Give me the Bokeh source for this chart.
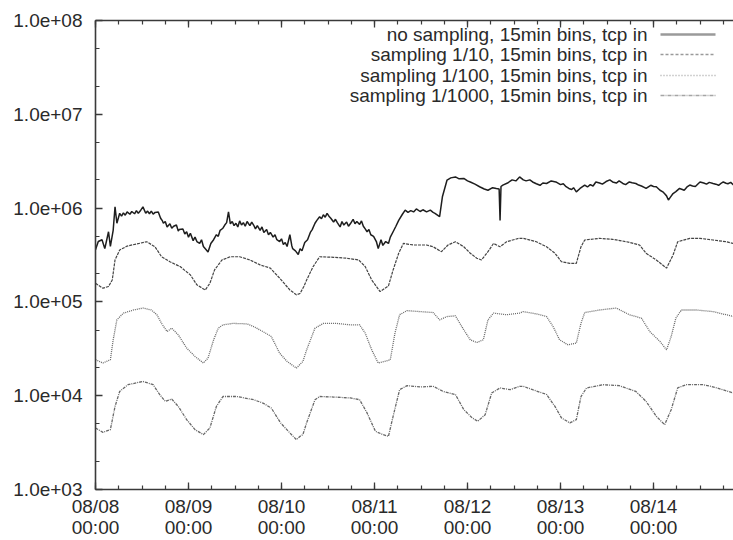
from bokeh.plotting import figure
from bokeh.models import FixedTicker, LinearAxis, Label, Arrow, Range1d, CustomJSTickFormatter
from bokeh.embed import file_html
from bokeh.resources import INLINE

# ---- data: (day offset from 08/08 00:00, value) ----
no_sampling = [
    (0.00, 3.6e5), (0.03, 4.4e5), (0.07, 4.6e5), (0.10, 3.7e5), (0.14, 5.6e5), (0.16, 3.9e5),
    (0.19, 5.8e5), (0.21, 1.03e6), (0.23, 6.9e5), (0.26, 8.8e5), (0.28, 8.2e5), (0.30, 8.9e5),
    (0.32, 8.4e5), (0.34, 9.1e5), (0.37, 8.6e5), (0.39, 9.2e5), (0.42, 8.7e5), (0.44, 9.4e5),
    (0.46, 8.8e5), (0.48, 9.3e5), (0.51, 1.03e6), (0.54, 8.8e5), (0.56, 9.3e5), (0.58, 8.7e5),
    (0.60, 9.3e5), (0.62, 8.6e5), (0.64, 9.0e5), (0.675, 9.1e5), (0.70, 7.8e5), (0.72, 7.3e5),
    (0.73, 6.9e5), (0.75, 7.2e5), (0.77, 6.3e5), (0.80, 6.8e5), (0.82, 6.1e5), (0.84, 6.4e5),
    (0.87, 6.6e5), (0.89, 5.7e5), (0.90, 5.9e5), (0.94, 6.0e5), (0.96, 5.3e5), (0.98, 5.6e5),
    (1.00, 4.9e5), (1.02, 5.4e5), (1.05, 4.5e5), (1.07, 4.9e5), (1.09, 4.4e5), (1.12, 4.2e5),
    (1.14, 4.6e5), (1.16, 3.9e5), (1.19, 3.6e5), (1.21, 3.4e5), (1.24, 4.2e5), (1.27, 4.6e5),
    (1.30, 5.2e5), (1.32, 5.0e5), (1.34, 5.8e5), (1.37, 6.1e5), (1.39, 6.6e5), (1.41, 7.0e5),
    (1.43, 9.1e5), (1.45, 6.8e5), (1.47, 7.2e5), (1.49, 6.5e5), (1.51, 6.9e5), (1.53, 6.3e5),
    (1.55, 7.3e5), (1.57, 6.6e5), (1.59, 7.0e5), (1.61, 6.4e5), (1.63, 7.2e5), (1.66, 6.5e5),
    (1.68, 7.1e5), (1.70, 6.6e5), (1.72, 6.0e5), (1.74, 6.5e5), (1.77, 5.8e5), (1.79, 6.3e5),
    (1.81, 5.5e5), (1.84, 5.9e5), (1.86, 5.2e5), (1.88, 5.5e5), (1.91, 4.9e5), (1.93, 5.2e5),
    (1.95, 4.6e5), (1.98, 4.4e5), (2.00, 4.7e5), (2.02, 4.1e5), (2.04, 4.3e5), (2.06, 3.9e5),
    (2.09, 5.2e5), (2.11, 4.0e5), (2.12, 3.7e5), (2.15, 3.5e5), (2.18, 3.2e5), (2.20, 3.7e5),
    (2.22, 3.5e5), (2.25, 4.3e5), (2.28, 4.6e5), (2.31, 5.5e5), (2.33, 5.9e5), (2.36, 6.9e5),
    (2.38, 7.4e5), (2.41, 8.1e5), (2.43, 7.7e5), (2.45, 8.5e5), (2.47, 8.0e5), (2.49, 8.8e5),
    (2.51, 8.2e5), (2.53, 7.8e5), (2.56, 7.1e5), (2.58, 7.6e5), (2.60, 7.0e5), (2.63, 6.3e5),
    (2.65, 7.2e5), (2.67, 6.6e5), (2.70, 7.1e5), (2.72, 6.4e5), (2.74, 6.8e5), (2.77, 7.6e5),
    (2.79, 6.8e5), (2.81, 7.2e5), (2.84, 6.7e5), (2.86, 7.3e5), (2.88, 6.4e5), (2.90, 6.0e5),
    (2.92, 5.6e5), (2.94, 5.9e5), (2.96, 5.2e5), (2.99, 5.0e5), (3.02, 4.4e5), (3.04, 3.7e5),
    (3.07, 4.6e5), (3.09, 4.0e5), (3.12, 4.4e5), (3.15, 4.2e5), (3.17, 4.9e5), (3.20, 5.6e5),
    (3.23, 6.4e5), (3.26, 7.4e5), (3.30, 8.6e5), (3.33, 9.5e5), (3.36, 9.0e5), (3.39, 9.4e5),
    (3.42, 9.1e5), (3.45, 9.8e5), (3.49, 9.2e5), (3.52, 9.6e5), (3.56, 9.1e5), (3.60, 9.5e5),
    (3.63, 9.0e5), (3.65, 8.8e5), (3.70, 8.1e5), (3.73, 1.32e6), (3.78, 1.99e6), (3.82, 2.1e6),
    (3.87, 2.15e6), (3.91, 2.05e6), (3.96, 2.07e6), (4.00, 1.95e6), (4.03, 1.9e6), (4.08, 1.8e6),
    (4.13, 1.69e6), (4.18, 1.6e6), (4.22, 1.55e6), (4.27, 1.65e6), (4.31, 1.62e6), (4.34, 1.6e6),
    (4.35, 7.4e5), (4.36, 1.7e6), (4.38, 1.76e6), (4.43, 1.85e6), (4.48, 2.0e6), (4.52, 1.95e6),
    (4.56, 2.15e6), (4.60, 2.0e6), (4.63, 1.95e6), (4.67, 2.0e6), (4.70, 1.9e6), (4.74, 1.82e6),
    (4.78, 1.75e6), (4.81, 1.85e6), (4.85, 1.83e6), (4.90, 1.95e6), (4.95, 1.9e6), (5.00, 1.78e6),
    (5.03, 1.82e6), (5.06, 1.69e6), (5.09, 1.62e6), (5.12, 1.58e6), (5.14, 1.65e6), (5.17, 1.49e6),
    (5.21, 1.62e6), (5.26, 1.76e6), (5.29, 1.68e6), (5.32, 1.78e6), (5.35, 1.72e6), (5.38, 1.9e6),
    (5.42, 1.85e6), (5.45, 1.8e6), (5.49, 1.92e6), (5.53, 2.0e6), (5.56, 1.9e6), (5.60, 1.85e6),
    (5.63, 1.95e6), (5.67, 1.83e6), (5.70, 1.78e6), (5.74, 1.9e6), (5.77, 1.86e6), (5.81, 1.83e6),
    (5.84, 1.76e6), (5.87, 1.72e6), (5.90, 1.66e6), (5.92, 1.62e6), (5.97, 1.75e6), (6.00, 1.7e6),
    (6.03, 1.69e6), (6.07, 1.55e6), (6.10, 1.49e6), (6.12, 1.42e6), (6.14, 1.35e6), (6.16, 1.22e6),
    (6.18, 1.3e6), (6.21, 1.43e6), (6.24, 1.5e6), (6.28, 1.62e6), (6.31, 1.58e6), (6.33, 1.55e6),
    (6.36, 1.68e6), (6.39, 1.76e6), (6.42, 1.72e6), (6.45, 1.7e6), (6.48, 1.82e6), (6.50, 1.9e6),
    (6.54, 1.85e6), (6.57, 1.8e6), (6.60, 1.88e6), (6.64, 1.83e6), (6.67, 1.8e6), (6.70, 1.75e6),
    (6.73, 1.85e6), (6.75, 1.9e6), (6.78, 1.84e6), (6.80, 1.82e6), (6.83, 1.88e6), (6.86, 1.76e6),
]

sampling_10 = [
    (0.00, 1.58e5), (0.08, 1.40e5), (0.14, 1.46e5), (0.18, 1.71e5), (0.21, 2.8e5), (0.26, 3.57e5),
    (0.34, 3.94e5), (0.44, 4.14e5), (0.55, 4.38e5), (0.64, 3.87e5), (0.71, 3.03e5), (0.80, 2.68e5),
    (0.91, 2.38e5), (1.02, 1.94e5), (1.09, 1.52e5), (1.18, 1.34e5), (1.23, 1.58e5), (1.28, 2.19e5),
    (1.36, 2.8e5), (1.45, 3.03e5), (1.55, 3.03e5), (1.66, 2.8e5), (1.77, 2.48e5), (1.88, 2.29e5),
    (1.98, 1.79e5), (2.09, 1.34e5), (2.16, 1.19e5), (2.20, 1.23e5), (2.24, 1.46e5), (2.27, 1.71e5),
    (2.34, 2.38e5), (2.41, 3.03e5), (2.56, 2.99e5), (2.70, 2.92e5), (2.83, 2.8e5), (2.90, 2.38e5),
    (2.97, 1.71e5), (3.06, 1.29e5), (3.15, 1.48e5), (3.20, 2.19e5), (3.26, 3.3e5), (3.31, 4.2e5),
    (3.42, 4.04e5), (3.56, 4.04e5), (3.63, 3.87e5), (3.72, 3.43e5), (3.79, 4.04e5), (3.87, 4.38e5),
    (3.96, 3.87e5), (4.03, 3.3e5), (4.10, 2.92e5), (4.15, 2.8e5), (4.22, 3.43e5), (4.28, 4.2e5),
    (4.35, 3.87e5), (4.42, 4.38e5), (4.55, 4.76e5), (4.60, 4.76e5), (4.74, 4.38e5), (4.85, 3.87e5),
    (4.94, 3.3e5), (5.01, 2.68e5), (5.10, 2.58e5), (5.17, 2.58e5), (5.22, 3.87e5), (5.26, 4.57e5),
    (5.42, 4.76e5), (5.56, 4.65e5), (5.71, 4.38e5), (5.85, 4.04e5), (5.92, 3.3e5), (6.03, 2.8e5),
    (6.14, 2.29e5), (6.21, 3.16e5), (6.26, 4.38e5), (6.39, 4.76e5), (6.50, 4.76e5), (6.64, 4.57e5),
    (6.78, 4.38e5), (6.86, 4.2e5),
]

sampling_100 = [
    (0.00, 2.42e4), (0.08, 2.23e4), (0.16, 2.42e4), (0.19, 3.94e4), (0.23, 6.44e4), (0.30, 7.59e4),
    (0.41, 8.2e4), (0.51, 8.6e4), (0.60, 8.2e4), (0.66, 7.3e4), (0.71, 5.9e4), (0.77, 4.83e4),
    (0.82, 5.25e4), (0.89, 4.45e4), (0.98, 3.22e4), (1.07, 2.62e4), (1.16, 2.23e4), (1.21, 2.52e4),
    (1.27, 3.94e4), (1.32, 5.25e4), (1.37, 5.69e4), (1.48, 5.9e4), (1.63, 5.83e4), (1.70, 5.46e4),
    (1.80, 4.83e4), (1.89, 4.28e4), (1.98, 2.84e4), (2.06, 2.32e4), (2.16, 1.97e4), (2.23, 2.32e4),
    (2.27, 3.08e4), (2.36, 5.25e4), (2.45, 5.9e4), (2.59, 5.9e4), (2.74, 5.69e4), (2.84, 5.69e4),
    (2.90, 4.65e4), (2.97, 3.08e4), (3.04, 2.23e4), (3.11, 2.32e4), (3.17, 2.42e4), (3.22, 4.65e4),
    (3.27, 7.3e4), (3.35, 8.07e4), (3.49, 7.88e4), (3.63, 7.7e4), (3.70, 6.44e4), (3.78, 6.98e4),
    (3.87, 7.1e4), (3.96, 5.03e4), (4.03, 3.94e4), (4.10, 3.69e4), (4.17, 3.94e4), (4.22, 6.44e4),
    (4.28, 7.59e4), (4.42, 7.3e4), (4.56, 7.59e4), (4.60, 7.88e4), (4.74, 7.45e4), (4.85, 6.98e4),
    (4.92, 5.46e4), (4.99, 3.94e4), (5.08, 3.49e4), (5.17, 3.64e4), (5.22, 5.9e4), (5.26, 7.7e4),
    (5.42, 8.2e4), (5.60, 8.6e4), (5.74, 7.3e4), (5.87, 6.71e4), (5.96, 4.83e4), (6.07, 3.78e4),
    (6.14, 3.08e4), (6.19, 4.28e4), (6.24, 6.71e4), (6.30, 8.2e4), (6.46, 8.2e4), (6.64, 7.88e4),
    (6.78, 7.3e4), (6.86, 6.98e4),
]

sampling_1000 = [
    (0.00, 4.53e3), (0.08, 4.07e3), (0.16, 4.35e3), (0.21, 7.69e3), (0.26, 1.11e4), (0.35, 1.31e4),
    (0.51, 1.42e4), (0.62, 1.31e4), (0.69, 1.03e4), (0.75, 8.7e3), (0.82, 9.2e3), (0.89, 7.69e3),
    (0.98, 5.56e3), (1.07, 4.35e3), (1.16, 3.85e3), (1.23, 4.53e3), (1.30, 7.69e3), (1.37, 9.8e3),
    (1.52, 9.8e3), (1.70, 9.06e3), (1.80, 8.35e3), (1.89, 7.39e3), (1.99, 5.13e3), (2.09, 4.01e3),
    (2.16, 3.4e3), (2.20, 3.69e3), (2.23, 3.85e3), (2.27, 5.13e3), (2.36, 9.06e3), (2.41, 9.8e3),
    (2.56, 9.68e3), (2.74, 9.46e3), (2.84, 9.06e3), (2.92, 6.55e3), (3.01, 4.17e3), (3.09, 3.85e3),
    (3.15, 3.69e3), (3.20, 6.03e3), (3.27, 1.16e4), (3.35, 1.28e4), (3.49, 1.24e4), (3.63, 1.26e4),
    (3.74, 1.11e4), (3.87, 1.03e4), (3.96, 7.1e3), (4.05, 5.8e3), (4.11, 5.34e3), (4.19, 6.28e3),
    (4.26, 1.07e4), (4.35, 1.21e4), (4.46, 1.16e4), (4.56, 1.26e4), (4.60, 1.26e4), (4.70, 1.16e4),
    (4.85, 1.03e4), (4.94, 7.69e3), (5.01, 5.8e3), (5.10, 5.13e3), (5.17, 5.56e3), (5.22, 9.8e3),
    (5.28, 1.21e4), (5.46, 1.31e4), (5.63, 1.28e4), (5.81, 1.11e4), (5.92, 8.7e3), (6.03, 6.03e3),
    (6.12, 4.91e3), (6.19, 7.1e3), (6.26, 1.21e4), (6.35, 1.31e4), (6.54, 1.31e4), (6.68, 1.21e4),
    (6.86, 1.07e4),
]

series_names = [
    "no sampling, 15min bins, tcp in",
    "sampling 1/10, 15min bins, tcp in",
    "sampling 1/100, 15min bins, tcp in",
    "sampling 1/1000, 15min bins, tcp in",
]

day_ticks = [0, 1, 2, 3, 4, 5, 6]
day_labels = ["08/08\n00:00", "08/09\n00:00", "08/10\n00:00", "08/11\n00:00",
              "08/12\n00:00", "08/13\n00:00", "08/14\n00:00"]
y_ticks = [1e3, 1e4, 1e5, 1e6, 1e7, 1e8]
y_labels = ["1.0e+03", "1.0e+04", "1.0e+05", "1.0e+06", "1.0e+07", "1.0e+08"]

# ---- figure ----
FONT = "Liberation Sans"
TXT = "#2a2a2a"
AX = "#3a3a3a"

p = figure(width=733, height=540, y_axis_type="log",
           x_range=Range1d(0, 6.86), y_range=Range1d(1e3, 1e8),
           output_backend="svg", toolbar_location=None,
           min_border_left=95, min_border_right=0, min_border_top=20, min_border_bottom=50)
p.grid.visible = False
p.outline_line_color = None
p.background_fill_color = "white"
p.border_fill_color = "white"

x_minor = [i * 0.25 for i in range(0, 28)]
y_minor = [m * d for d in [1e3, 1e4, 1e5, 1e6, 1e7] for m in (2, 5)]
xt = FixedTicker(ticks=day_ticks, minor_ticks=x_minor)
yt = FixedTicker(ticks=y_ticks, minor_ticks=y_minor)

xa = p.xaxis[0]
xa.ticker = xt
xa.major_label_overrides = {t: l for t, l in zip(day_ticks, day_labels)}
xa.major_label_text_line_height = 1.0
xa.major_label_standoff = 6

ya = p.yaxis[0]
ya.ticker = yt
ya.major_label_overrides = {t: l for t, l in zip(y_ticks, y_labels)}
ya.major_label_standoff = 13

for ax in (xa, ya):
    ax.major_label_text_font = FONT
    ax.major_label_text_font_size = "19px"
    ax.major_label_text_color = TXT
    ax.axis_line_color = AX
    ax.axis_line_width = 1.6
    ax.major_tick_line_color = AX
    ax.minor_tick_line_color = AX
    ax.major_tick_line_width = 1.3
    ax.minor_tick_line_width = 1.2
    ax.major_tick_in = 7
    ax.major_tick_out = 0
    ax.minor_tick_in = 4
    ax.minor_tick_out = 0

top = LinearAxis(ticker=xt, formatter=CustomJSTickFormatter(code="return ''"),
                 major_label_standoff=0,
                 axis_line_color=AX, axis_line_width=1.6,
                 major_tick_line_color=AX, minor_tick_line_color=AX,
                 major_tick_line_width=1.3, minor_tick_line_width=1.2,
                 major_tick_in=7, major_tick_out=0, minor_tick_in=4, minor_tick_out=0)
p.add_layout(top, "above")

styles = [
    dict(line_color="#1e1e1e", line_width=1.5, line_dash="solid"),
    dict(line_color="#444444", line_width=1.2, line_dash="3 1"),
    dict(line_color="#686868", line_width=1.3, line_dash="1 1"),
    dict(line_color="#686868", line_width=1.3, line_dash="3 1 1 1"),
]
legend_styles = [
    dict(line_color="#9a9a9a", line_width=2.5, line_dash="solid"),
    dict(line_color="#9a9a9a", line_width=1.5, line_dash="3 2"),
    dict(line_color="#a5a5a5", line_width=1.5, line_dash="1 2"),
    dict(line_color="#a5a5a5", line_width=1.5, line_dash="4 1 1 1"),
]

all_series = [no_sampling, sampling_10, sampling_100, sampling_1000]
for pts, st in zip(all_series, styles):
    xs = [d for d, _ in pts]
    ys = [v for _, v in pts]
    p.line(xs, ys, **st)

# ---- gnuplot-style legend: text right-aligned, sample on its right ----
row_y = [455, 435, 414, 394]
for name, yy, st in zip(series_names, row_y, legend_styles):
    p.add_layout(Label(x=552, y=yy, x_units="screen", y_units="screen", text=name,
                       text_align="right", text_baseline="middle",
                       text_font=FONT, text_font_size="19px", text_color=TXT))
    p.add_layout(Arrow(end=None, x_start=565, y_start=yy, x_end=620, y_end=yy,
                       start_units="screen", end_units="screen", **st))

open("out.html", "w").write(file_html(p, INLINE))
